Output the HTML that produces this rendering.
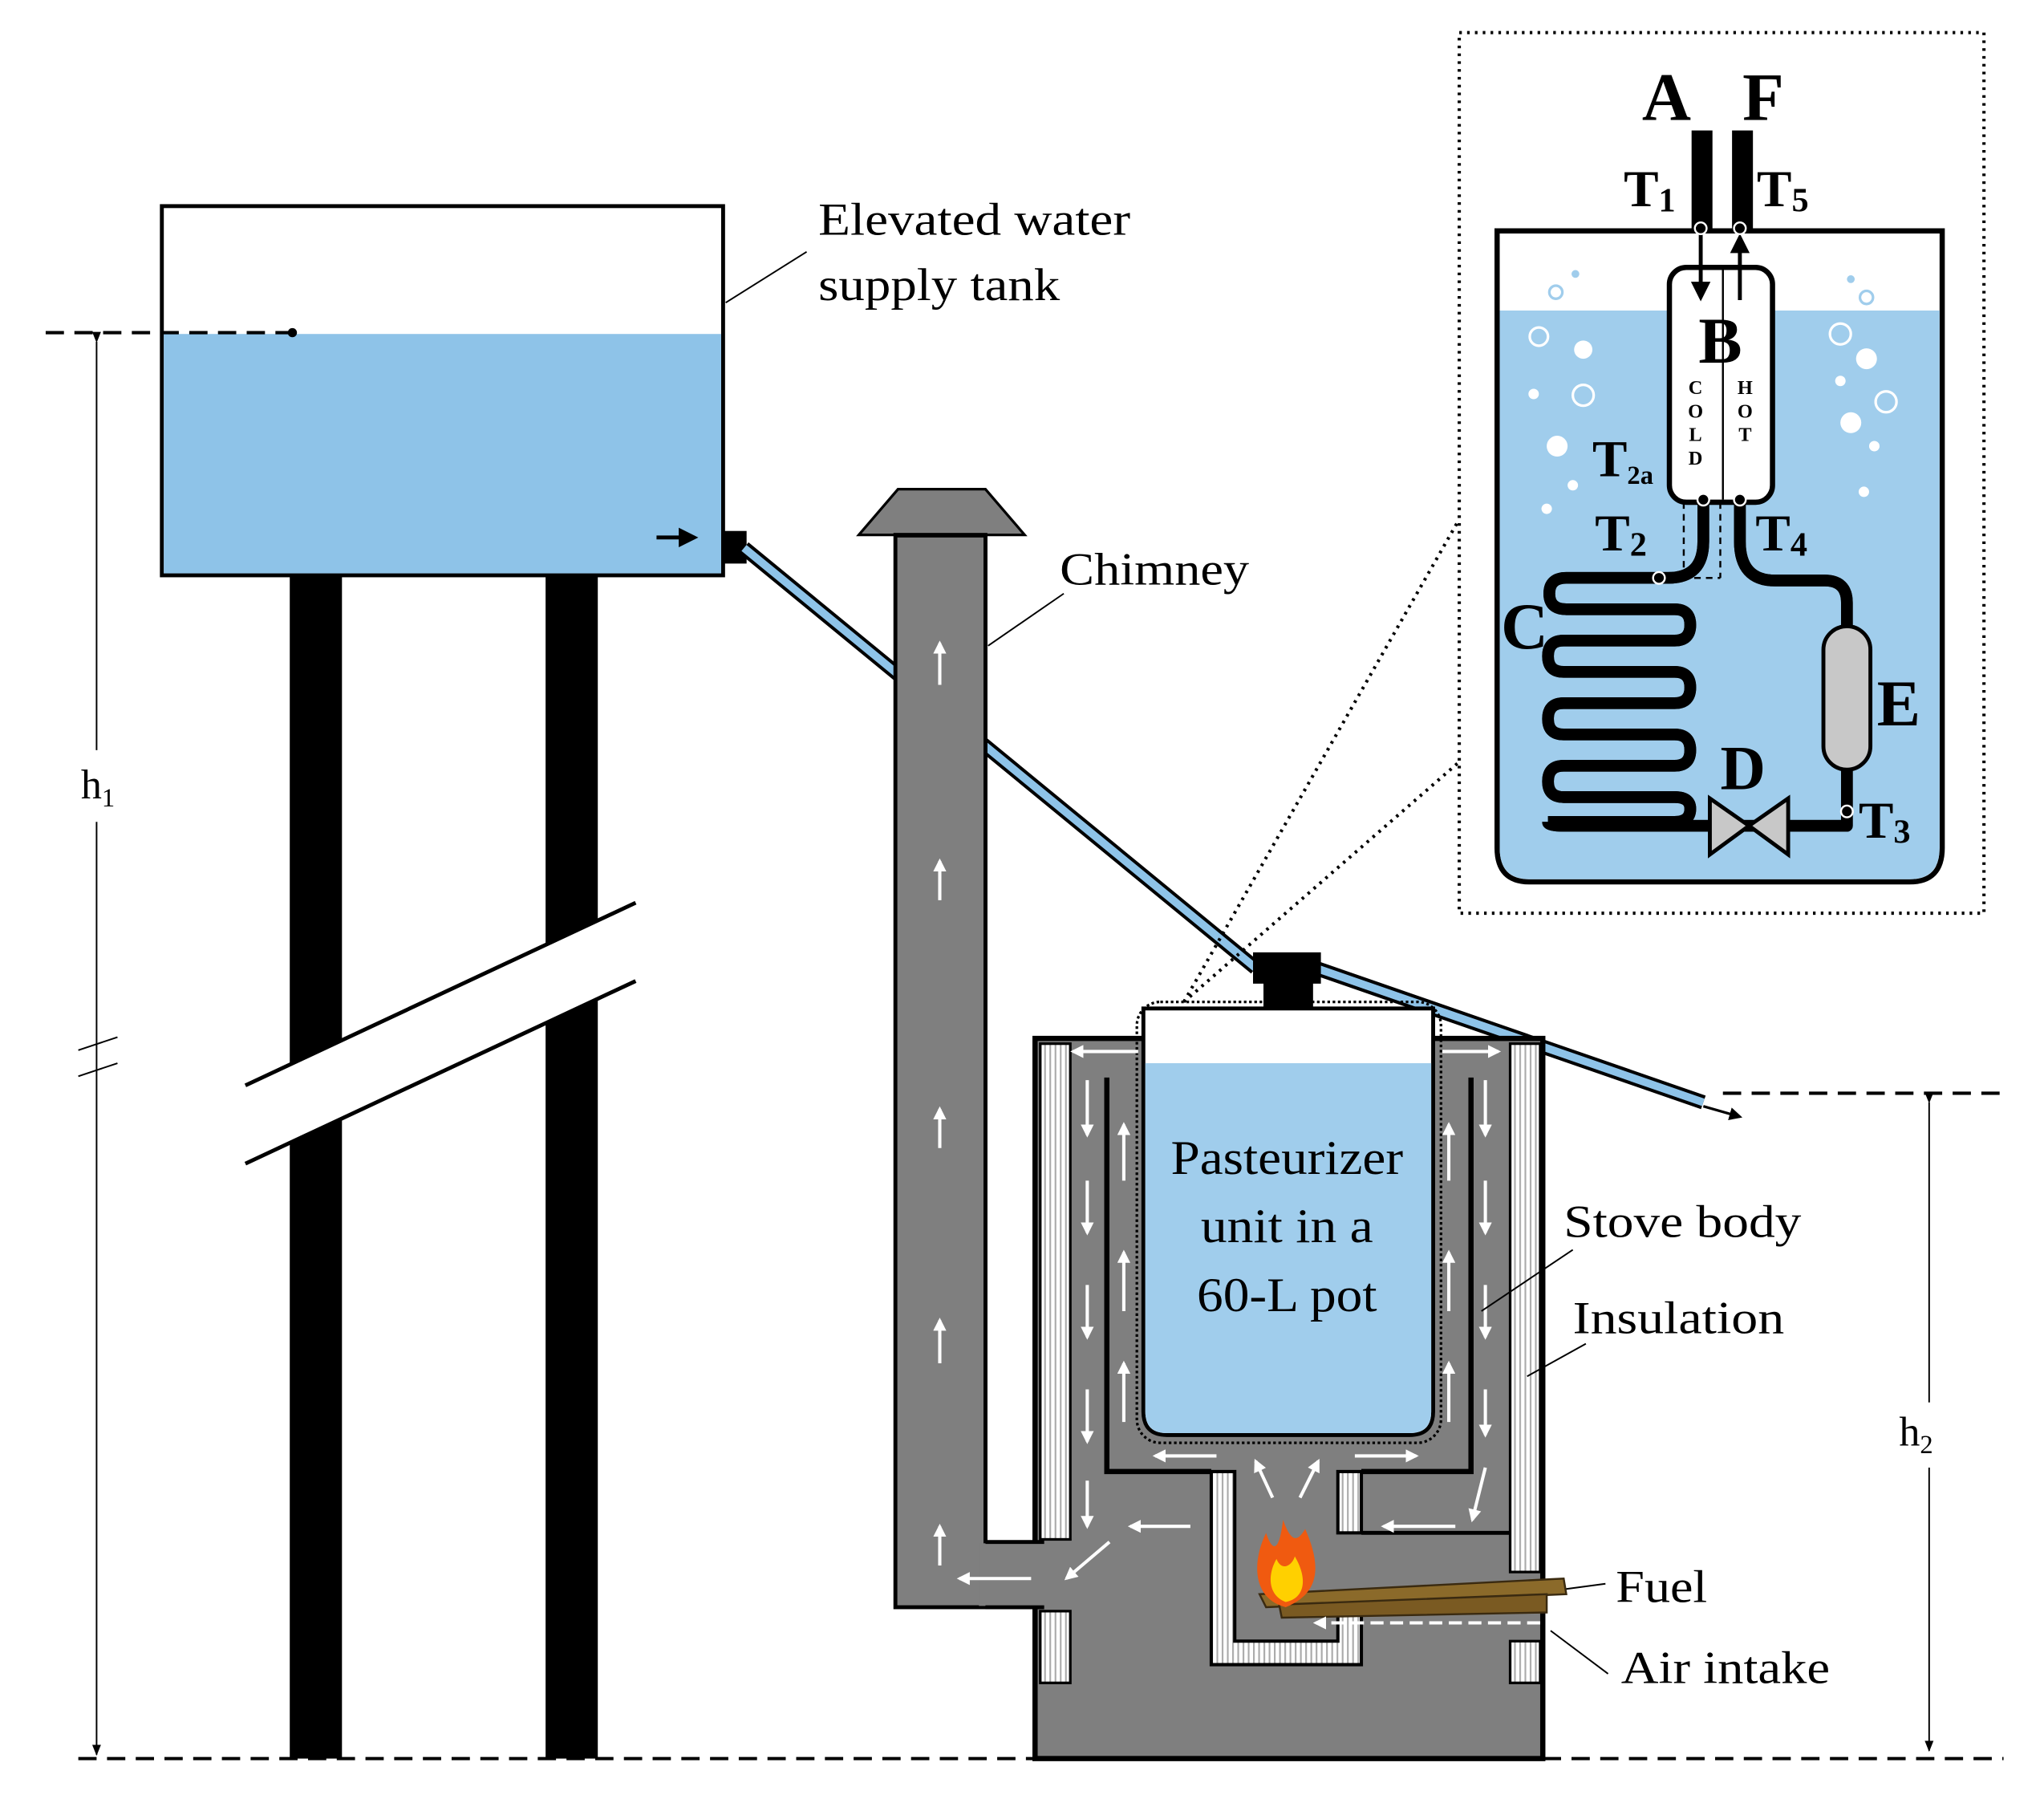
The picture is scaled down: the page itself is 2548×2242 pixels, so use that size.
<!DOCTYPE html>
<html><head><meta charset="utf-8"><style>
html,body{margin:0;padding:0;background:#fff}
svg{display:block}
text{font-family:"Liberation Serif",serif}
</style></head><body>
<svg width="2548" height="2242" viewBox="0 0 1566 1379" preserveAspectRatio="none" xmlns="http://www.w3.org/2000/svg">
<defs>
<pattern id="ins" width="4" height="10" patternUnits="userSpaceOnUse"><rect width="4" height="10" fill="#fff"/><rect width="1.3" height="10" fill="#aaa"/></pattern>
<marker id="wa" viewBox="0 0 10 10" refX="8" refY="5" markerWidth="4" markerHeight="4" orient="auto"><path d="M0,0L10,5L0,10z" fill="#fff"/></marker>
<marker id="ba" viewBox="0 0 10 10" refX="8" refY="5" markerWidth="5" markerHeight="5" orient="auto"><path d="M0,0L10,5L0,10z" fill="#000"/></marker>
<marker id="ta" viewBox="0 0 10 10" refX="9" refY="5" markerWidth="7" markerHeight="7" orient="auto"><path d="M0,1L10,5L0,9z" fill="#000"/></marker>
</defs>

<rect x="124" y="158" width="430" height="283" fill="#fff" stroke="#000" stroke-width="3"/>
<rect x="125.5" y="256" width="427" height="183.5" fill="#8ec3e8"/>
<line x1="35" y1="255" x2="222" y2="255" stroke="#000" stroke-width="2.5" stroke-dasharray="14,8"/>
<circle cx="224" cy="255" r="3.5"/>
<line x1="503" y1="412" x2="532" y2="412" stroke="#000" stroke-width="3" marker-end="url(#ba)"/>
<rect x="554" y="407" width="18" height="25" fill="#000"/>
<rect x="222" y="442" width="40" height="906" fill="#000"/>
<rect x="418" y="442" width="40" height="906" fill="#000"/>
<polygon points="188,832 487,692 487,752 188,892" fill="#fff"/>
<line x1="188" y1="832" x2="487" y2="692" stroke="#000" stroke-width="3"/>
<line x1="188" y1="892" x2="487" y2="752" stroke="#000" stroke-width="3"/>
<line x1="74" y1="262" x2="74" y2="575" stroke="#000" stroke-width="1.2" marker-start="url(#ta)"/>
<line x1="74" y1="630" x2="74" y2="1345" stroke="#000" stroke-width="1.2" marker-end="url(#ta)"/>
<line x1="60" y1="805" x2="90" y2="795" stroke="#000" stroke-width="1.2"/>
<line x1="60" y1="825" x2="90" y2="815" stroke="#000" stroke-width="1.2"/>
<text x="62" y="612" font-size="32">h<tspan font-size="20" dy="6">1</tspan></text>
<line x1="60" y1="1348" x2="1535" y2="1348" stroke="#000" stroke-width="2.5" stroke-dasharray="14,8"/>
<line x1="1320" y1="838" x2="1535" y2="838" stroke="#000" stroke-width="2.5" stroke-dasharray="14,8"/>
<line x1="1478" y1="845" x2="1478" y2="1075" stroke="#000" stroke-width="1.2" marker-start="url(#ta)"/>
<line x1="1478" y1="1125" x2="1478" y2="1342" stroke="#000" stroke-width="1.2" marker-end="url(#ta)"/>
<text x="1455" y="1108" font-size="32">h<tspan font-size="20" dy="6">2</tspan></text>

<line x1="570" y1="420" x2="962" y2="742" stroke="#000" stroke-width="11"/>
<line x1="570" y1="420" x2="962" y2="742" stroke="#8ec3e8" stroke-width="6"/>
<line x1="1008" y1="742" x2="1305" y2="845" stroke="#000" stroke-width="11"/>
<line x1="1008" y1="742" x2="1305" y2="845" stroke="#8ec3e8" stroke-width="6"/>
<line x1="1305" y1="848" x2="1333" y2="856" stroke="#000" stroke-width="2" marker-end="url(#ba)"/>

<polygon points="658,410 688,375 755,375 785,410" fill="#7f7f7f" stroke="#000" stroke-width="2"/>
<rect x="686" y="410" width="69" height="822" fill="#7f7f7f" stroke="#000" stroke-width="3"/>
<rect x="686" y="409" width="69" height="3" fill="#000"/>

<rect x="793" y="796" width="389" height="552" fill="#7f7f7f" stroke="#000" stroke-width="4"/>
<rect x="750" y="1183" width="60" height="48" fill="#7f7f7f"/>
<line x1="755" y1="1182" x2="800" y2="1182" stroke="#000" stroke-width="3"/>
<line x1="755" y1="1232" x2="800" y2="1232" stroke="#000" stroke-width="3"/>
<line x1="755" y1="410" x2="755" y2="1182" stroke="#000" stroke-width="3"/>
<rect x="797" y="800" width="23" height="380" fill="url(#ins)" stroke="#000" stroke-width="2"/>
<rect x="797" y="1235" width="23" height="55" fill="url(#ins)" stroke="#000" stroke-width="2"/>
<rect x="1157" y="800" width="23" height="405" fill="url(#ins)" stroke="#000" stroke-width="2"/>
<rect x="1157" y="1258" width="23" height="32" fill="url(#ins)" stroke="#000" stroke-width="2"/>
<path d="M848,826 V1128 H928 M1127,826 V1128 H1043" fill="none" stroke="#000" stroke-width="4"/>
<path d="M928,1128 V1276 H1043 V1235 H1025 V1258 H946 V1128 Z" fill="url(#ins)" stroke="#000" stroke-width="2.5"/>
<rect x="1025" y="1128" width="18" height="47" fill="url(#ins)" stroke="#000" stroke-width="2.5"/>
<line x1="1043" y1="1175" x2="1157" y2="1175" stroke="#000" stroke-width="3"/>
<line x1="1043" y1="1235" x2="1157" y2="1235" stroke="#000" stroke-width="3"/>
<rect x="871" y="768" width="233" height="338" rx="18" fill="none" stroke="#000" stroke-width="2" stroke-dasharray="2,2"/>
<path d="M876,773 H1098 V1082 Q1098,1100 1080,1100 H894 Q876,1100 876,1082 Z" fill="#fff" stroke="#000" stroke-width="3"/>
<path d="M877.5,815 H1096.5 V1082 Q1096.5,1098.5 1080,1098.5 H894 Q877.5,1098.5 877.5,1082 Z" fill="#a0cdec"/>
<rect x="968" y="748" width="38" height="26" fill="#000"/>
<rect x="960" y="730" width="52" height="24" fill="#000"/>
<text x="897" y="900" font-size="37" textLength="178" lengthAdjust="spacingAndGlyphs">Pasteurizer</text>
<text x="920" y="952" font-size="37" textLength="132" lengthAdjust="spacingAndGlyphs">unit in a</text>
<text x="917" y="1005" font-size="37" textLength="138" lengthAdjust="spacingAndGlyphs">60-L pot</text>
<polygon points="965,1222 1198,1210 1200,1222 970,1232" fill="#8b6a2a" stroke="#3a2a10" stroke-width="1.5"/>
<polygon points="980,1230 1185,1222 1185,1236 982,1240" fill="#7a5a22" stroke="#3a2a10" stroke-width="1.5"/>
<path d="M985,1232 C958,1225 960,1195 970,1175 C975,1190 980,1190 983,1165 C990,1185 995,1180 1000,1172 C1010,1195 1015,1220 985,1232 Z" fill="#f05a10"/>
<path d="M985,1228 C970,1222 972,1205 978,1195 C982,1205 990,1200 992,1193 C1002,1210 1000,1225 985,1228 Z" fill="#ffd000"/>
<line x1="1180" y1="1244" x2="1008" y2="1244" stroke="#fff" stroke-width="2.5" stroke-dasharray="10,5" marker-end="url(#wa)"/>

<g stroke="#fff" stroke-width="2.5" marker-end="url(#wa)">
<line x1="720" y1="525" x2="720" y2="493"/><line x1="720" y1="690" x2="720" y2="660"/>
<line x1="720" y1="880" x2="720" y2="850"/><line x1="720" y1="1045" x2="720" y2="1012"/>
<line x1="720" y1="1200" x2="720" y2="1170"/>
<line x1="790" y1="1210" x2="735" y2="1210"/><line x1="850" y1="1182" x2="817" y2="1210"/>
<line x1="912" y1="1170" x2="866" y2="1170"/>
<line x1="872" y1="806" x2="822" y2="806"/><line x1="1105" y1="806" x2="1148" y2="806"/>
<line x1="833" y1="828" x2="833" y2="870"/><line x1="833" y1="905" x2="833" y2="945"/>
<line x1="833" y1="985" x2="833" y2="1025"/><line x1="833" y1="1065" x2="833" y2="1105"/>
<line x1="833" y1="1135" x2="833" y2="1170"/>
<line x1="861" y1="905" x2="861" y2="862"/><line x1="861" y1="1005" x2="861" y2="960"/>
<line x1="861" y1="1090" x2="861" y2="1045"/>
<line x1="1110" y1="905" x2="1110" y2="862"/><line x1="1110" y1="1005" x2="1110" y2="960"/>
<line x1="1110" y1="1090" x2="1110" y2="1045"/>
<line x1="1138" y1="828" x2="1138" y2="870"/><line x1="1138" y1="905" x2="1138" y2="945"/>
<line x1="1138" y1="985" x2="1138" y2="1025"/><line x1="1138" y1="1065" x2="1138" y2="1100"/>
<line x1="1138" y1="1125" x2="1128" y2="1165"/>
<line x1="932" y1="1116" x2="885" y2="1116"/><line x1="1038" y1="1116" x2="1085" y2="1116"/>
<line x1="975" y1="1148" x2="962" y2="1120"/><line x1="996" y1="1148" x2="1010" y2="1120"/>
<line x1="1115" y1="1170" x2="1060" y2="1170"/>
</g>

<g stroke="#000" stroke-width="1.2">
<line x1="556" y1="232" x2="618" y2="193"/>
<line x1="757" y1="495" x2="815" y2="455"/>
<line x1="1135" y1="1005" x2="1205" y2="958"/>
<line x1="1170" y1="1055" x2="1215" y2="1030"/>
<line x1="1200" y1="1218" x2="1230" y2="1214"/>
<line x1="1188" y1="1250" x2="1232" y2="1283"/>
</g>
<g font-size="35" lengthAdjust="spacingAndGlyphs">
<text x="627" y="180" textLength="239" lengthAdjust="spacingAndGlyphs">Elevated water</text>
<text x="627" y="230" textLength="185" lengthAdjust="spacingAndGlyphs">supply tank</text>
<text x="812" y="448" textLength="145" lengthAdjust="spacingAndGlyphs">Chimney</text>
<text x="1198" y="948" textLength="182" lengthAdjust="spacingAndGlyphs">Stove body</text>
<text x="1205" y="1022" textLength="162" lengthAdjust="spacingAndGlyphs">Insulation</text>
<text x="1238" y="1228" textLength="70" lengthAdjust="spacingAndGlyphs">Fuel</text>
<text x="1242" y="1290" textLength="160" lengthAdjust="spacingAndGlyphs">Air intake</text>
</g>

<g stroke="#000" stroke-width="2.5" stroke-dasharray="2,4" fill="none">
<rect x="1118" y="25" width="402" height="675"/>
<line x1="907" y1="768" x2="1118" y2="398"/>
<line x1="907" y1="768" x2="1118" y2="584"/>
</g>
<rect x="1121" y="28" width="396" height="669" fill="#fff"/>

<path d="M1147,177 V650 Q1147,676 1172,676 H1463 Q1488,676 1488,650 V177 Z" fill="#fff" stroke="#000" stroke-width="4"/>
<path d="M1149,238 H1486 V650 Q1486,674 1463,674 H1172 Q1149,674 1149,650 Z" fill="#a0cdec"/>
<g fill="#fff">
<circle cx="1213" cy="268" r="7"/><circle cx="1175" cy="302" r="4"/><circle cx="1193" cy="342" r="8"/><circle cx="1205" cy="372" r="4"/><circle cx="1185" cy="390" r="4"/>
<circle cx="1430" cy="275" r="8"/><circle cx="1410" cy="292" r="4"/><circle cx="1418" cy="324" r="8"/><circle cx="1436" cy="342" r="4"/><circle cx="1428" cy="377" r="4"/>
<circle cx="1207" cy="210" r="3" fill="#a0cdec"/><circle cx="1418" cy="214" r="3" fill="#a0cdec"/>
</g>
<g fill="none" stroke="#fff" stroke-width="2">
<circle cx="1179" cy="258" r="7"/><circle cx="1213" cy="303" r="8"/><circle cx="1410" cy="256" r="8"/><circle cx="1445" cy="308" r="8"/>
</g>
<g fill="none" stroke="#a0cdec" stroke-width="2"><circle cx="1192" cy="224" r="5"/><circle cx="1430" cy="228" r="5"/></g>
<rect x="1296" y="100" width="16" height="78" fill="#000"/>
<rect x="1327" y="100" width="16" height="78" fill="#000"/>
<g font-weight="bold">
<text x="1258" y="92" font-size="52">A</text>
<text x="1335" y="92" font-size="52">F</text>
<text x="1244" y="158" font-size="40">T<tspan font-size="26" dy="4">1</tspan></text>
<text x="1346" y="158" font-size="40">T<tspan font-size="26" dy="4">5</tspan></text>
</g>
<rect x="1279" y="205" width="79" height="180" rx="13" fill="#fff" stroke="#000" stroke-width="4"/>
<line x1="1320" y1="207" x2="1320" y2="383" stroke="#000" stroke-width="1.5"/>
<line x1="1303" y1="178" x2="1303" y2="228" stroke="#000" stroke-width="3" marker-end="url(#ba)"/>
<line x1="1333" y1="230" x2="1333" y2="182" stroke="#000" stroke-width="3" marker-end="url(#ba)"/>
<text x="1318" y="278" font-size="50" font-weight="bold" text-anchor="middle">B</text>
<g font-size="15" font-weight="bold" text-anchor="middle">
<text x="1299" y="302">C</text><text x="1299" y="320">O</text><text x="1299" y="338">L</text><text x="1299" y="356">D</text>
<text x="1337" y="302">H</text><text x="1337" y="320">O</text><text x="1337" y="338">T</text>
</g>
<g fill="none" stroke-linejoin="round">
<path id="coil" d="M1305,385 V415 Q1305,443 1278,443 H1200 Q1187,443 1187,455 Q1187,467 1200,467 H1283 Q1295,467 1295,479 Q1295,491 1283,491 H1198 Q1186,491 1186,503 Q1186,515 1198,515 H1283 Q1295,515 1295,527 Q1295,539 1283,539 H1198 Q1186,539 1186,551 Q1186,563 1198,563 H1283 Q1295,563 1295,575 Q1295,587 1283,587 H1198 Q1186,587 1186,599 Q1186,611 1198,611 H1283 Q1295,611 1295,620 Q1295,630 1283,630 H1198 Q1186,630 1186,630 M1186,630 Q1186,633 1198,633 H1415 V590 M1415,480 V462 Q1415,445 1398,445 H1360 Q1333,445 1333,415 V385" stroke="#000" stroke-width="9"/>
<use href="#coil" stroke="#a0cdec" stroke-width="5.5"/>
</g>
<g stroke="#000" stroke-width="1.5" stroke-dasharray="5,4" fill="none">
<line x1="1290" y1="385" x2="1290" y2="443"/>
<line x1="1318" y1="385" x2="1318" y2="443"/>
<line x1="1271" y1="443" x2="1318" y2="443"/>
</g>
<rect x="1397" y="480" width="36" height="110" rx="18" fill="#c8c8c8" stroke="#000" stroke-width="3"/>
<polygon points="1310,612 1340,633 1310,655" fill="#c8c8c8" stroke="#000" stroke-width="3"/>
<polygon points="1370,612 1340,633 1370,655" fill="#c8c8c8" stroke="#000" stroke-width="3"/>
<g fill="#000" stroke="#fff" stroke-width="1.5">
<circle cx="1303" cy="175" r="4.5"/><circle cx="1333" cy="175" r="4.5"/>
<circle cx="1305" cy="383" r="4.5"/><circle cx="1333" cy="383" r="4.5"/>
<circle cx="1271" cy="443" r="4.5"/><circle cx="1415" cy="622" r="4.5"/>
</g>
<g font-weight="bold">
<text x="1220" y="365" font-size="40">T<tspan font-size="20" dy="6">2a</tspan></text>
<text x="1222" y="422" font-size="40">T<tspan font-size="26" dy="4">2</tspan></text>
<text x="1345" y="422" font-size="40">T<tspan font-size="26" dy="4">4</tspan></text>
<text x="1424" y="642" font-size="40">T<tspan font-size="26" dy="4">3</tspan></text>
<text x="1150" y="497" font-size="50">C</text>
<text x="1438" y="556" font-size="50">E</text>
<text x="1318" y="605" font-size="48">D</text>
</g>
</svg>
</body></html>
